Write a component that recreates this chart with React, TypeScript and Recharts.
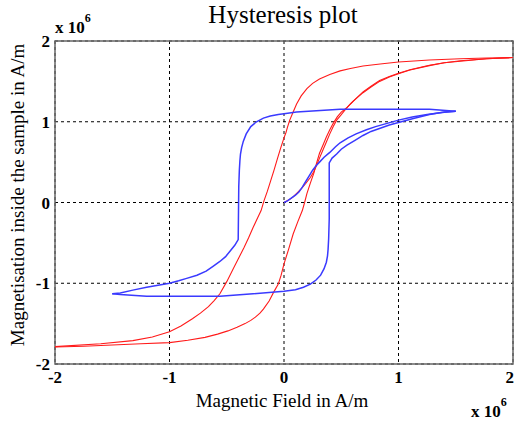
import React from 'react'
import {
  LineChart, Line, XAxis, YAxis, CartesianGrid, ReferenceArea
} from 'recharts'

// field H (x 10^6 A/m) and magnetisation M (x 10^6 A/m)
const ticks = [-2, -1, 0, 1, 2]

// red loop
const redInitH = [0, 0.04, 0.08, 0.115, 0.15, 0.19, 0.23, 0.26, 0.285, 0.31, 0.34, 0.37, 0.4, 0.43, 0.46, 0.495, 0.53, 0.58, 0.63, 0.69, 0.76, 0.835, 0.92, 1.0, 1.1, 1.27, 1.4, 1.54, 1.77, 2.0]
const redInitM = [0, 0.03, 0.07, 0.12, 0.17, 0.235, 0.31, 0.38, 0.46, 0.55, 0.65, 0.75, 0.85, 0.94, 1.02, 1.08, 1.14, 1.22, 1.29, 1.37, 1.44, 1.51, 1.56, 1.6, 1.645, 1.7, 1.73, 1.75, 1.78, 1.795]

const redDownH = [2.0, 1.77, 1.54, 1.27, 1.0, 0.84, 0.69, 0.58, 0.49, 0.4, 0.31, 0.25, 0.2, 0.15, 0.11, 0.08, 0.05, 0.03, 0.018, 0, -0.03, -0.058, -0.087, -0.116, -0.145, -0.175, -0.2, -0.23, -0.27, -0.31, -0.35, -0.4, -0.44, -0.5, -0.56, -0.61, -0.66, -0.73, -0.8, -0.9, -1.0, -1.15, -1.32, -1.6, -2.0]
const redDownM = [1.795, 1.79, 1.78, 1.765, 1.74, 1.715, 1.69, 1.66, 1.63, 1.585, 1.53, 1.475, 1.41, 1.32, 1.22, 1.12, 1.02, 0.93, 0.87, 0.8, 0.67, 0.54, 0.4, 0.27, 0.14, 0.02, -0.1, -0.19, -0.31, -0.44, -0.56, -0.7, -0.81, -0.98, -1.13, -1.215, -1.29, -1.37, -1.44, -1.53, -1.6, -1.665, -1.71, -1.75, -1.785]

const redUpH = [-2.0, -1.75, -1.5, -1.25, -1.0, -0.84, -0.69, -0.58, -0.49, -0.41, -0.34, -0.29, -0.25, -0.21, -0.18, -0.13, -0.09, -0.05, -0.025, 0, 0.04, 0.08, 0.12, 0.16, 0.18, 0.2, 0.23, 0.26, 0.285, 0.31, 0.34, 0.37, 0.4, 0.43, 0.465, 0.5, 0.545, 0.6, 0.69, 0.76, 0.835, 0.92, 1.0, 1.1, 1.27, 1.4, 1.54, 1.77, 2.0]
const redUpM = [-1.79, -1.78, -1.765, -1.75, -1.735, -1.705, -1.67, -1.63, -1.59, -1.545, -1.5, -1.46, -1.42, -1.37, -1.32, -1.22, -1.11, -1.01, -0.9, -0.76, -0.58, -0.39, -0.24, -0.1, 0, 0.11, 0.24, 0.36, 0.49, 0.61, 0.71, 0.81, 0.9, 0.98, 1.06, 1.12, 1.17, 1.25, 1.36, 1.43, 1.5, 1.555, 1.595, 1.64, 1.695, 1.73, 1.755, 1.78, 1.795]

// blue loop
const blueInitH = [0, 0.03, 0.06, 0.1, 0.13, 0.16, 0.19, 0.22, 0.25, 0.28, 0.31, 0.35, 0.4, 0.45, 0.49, 0.56, 0.63, 0.72, 0.8, 0.9, 1.0, 1.12, 1.25, 1.38, 1.5]
const blueInitM = [0, 0.02, 0.05, 0.09, 0.13, 0.19, 0.26, 0.33, 0.4, 0.455, 0.5, 0.56, 0.62, 0.69, 0.74, 0.8, 0.85, 0.9, 0.94, 0.98, 1.02, 1.06, 1.09, 1.115, 1.13]

const blueDownH = [1.5, 1.27, 0.49, 0.11, 0, -0.05, -0.12, -0.18, -0.24, -0.29, -0.33, -0.355, -0.37, -0.38, -0.385, -0.39, -0.395, -0.4, -0.43, -0.47, -0.51, -0.56, -0.62, -0.68, -0.76, -0.85, -0.92, -1.0, -1.1, -1.2, -1.32, -1.43, -1.5]
const blueDownM = [1.13, 1.155, 1.155, 1.12, 1.1, 1.09, 1.07, 1.045, 1.0, 0.94, 0.85, 0.76, 0.68, 0.6, 0.52, 0.4, 0.2, -0.46, -0.53, -0.6, -0.67, -0.73, -0.79, -0.85, -0.9, -0.94, -0.97, -1.0, -1.025, -1.05, -1.085, -1.12, -1.13]

const blueUpH = [-1.5, -1.43, -1.2, -0.56, -0.27, 0, 0.1, 0.17, 0.23, 0.28, 0.32, 0.35, 0.37, 0.38, 0.385, 0.39, 0.395, 0.395, 0.42, 0.46, 0.5, 0.55, 0.62, 0.69, 0.76, 0.84, 0.92, 1.0, 1.13, 1.27, 1.4, 1.5]
const blueUpM = [-1.13, -1.14, -1.16, -1.16, -1.13, -1.1, -1.08, -1.05, -1.01, -0.96, -0.9, -0.82, -0.74, -0.66, -0.58, -0.45, -0.2, 0.49, 0.55, 0.6, 0.66, 0.71, 0.77, 0.83, 0.88, 0.92, 0.96, 0.99, 1.04, 1.09, 1.12, 1.13]

const zip = (h: number[], m: number[]) => h.map((x, i) => ({ x, y: m[i] }))

const branches = [
  { key: 'redInit', data: zip(redInitH, redInitM), color: '#ff1a1a', width: 1.1 },
  { key: 'redDown', data: zip(redDownH, redDownM), color: '#ff1a1a', width: 1.1 },
  { key: 'redUp', data: zip(redUpH, redUpM), color: '#ff1a1a', width: 1.1 },
  { key: 'blueInit', data: zip(blueInitH, blueInitM), color: '#3a3aff', width: 1.5 },
  { key: 'blueDown', data: zip(blueDownH, blueDownM), color: '#3a3aff', width: 1.5 },
  { key: 'blueUp', data: zip(blueUpH, blueUpM), color: '#3a3aff', width: 1.5 },
]

const serif = '"Liberation Serif", "Times New Roman", serif'
const tickStyle = { fill: '#000', fontSize: 17, fontWeight: 700, fontFamily: serif }

export default function App() {
  return (
    <div style={{ position: 'absolute', left: 0, top: 0, width: 514, height: 422, background: '#fff' }}>
      <LineChart width={514} height={422} margin={{ top: 41, right: 1, left: 0, bottom: 0 }}>
        <CartesianGrid strokeDasharray="3 3" stroke="#000" strokeWidth={1} />
        <XAxis type="number" dataKey="x" domain={[-2, 2]} ticks={ticks} height={58}
          axisLine={false} tickLine={false} tickSize={5} tickMargin={2} tick={tickStyle} allowDataOverflow />
        <YAxis type="number" dataKey="y" domain={[-2, 2]} ticks={ticks} width={55}
          axisLine={false} tickLine={false} tickSize={5} tickMargin={0} tick={tickStyle} allowDataOverflow />
        {branches.map(b => (
          <Line key={b.key} data={b.data} dataKey="y" type="linear" stroke={b.color}
            strokeWidth={b.width} dot={false} activeDot={false} isAnimationActive={false} />
        ))}
        <ReferenceArea x1={-2} x2={2} y1={-2} y2={2} fill="none" stroke="#666" strokeWidth={1.5} />
      </LineChart>
      <svg width={514} height={422} style={{ position: 'absolute', left: 0, top: 0, pointerEvents: 'none' }}>
        <text x={283} y={23} textAnchor="middle" fontFamily={serif} fontSize={25} fill="#000">Hysteresis plot</text>
        <text x={282} y={407} textAnchor="middle" fontFamily={serif} fontSize={19} fill="#000">Magnetic Field in A/m</text>
        <text transform="translate(24,195) rotate(-90)" textAnchor="middle" fontFamily={serif} fontSize={19} fill="#000">
          Magnetisation inside the sample in A/m
        </text>
        <text x={55} y={33} fontFamily={serif} fontSize={17} fontWeight={700} fill="#000">
          x 10<tspan fontSize={12} dy={-11}>6</tspan>
        </text>
        <text x={471} y={417} fontFamily={serif} fontSize={17} fontWeight={700} fill="#000">
          x 10<tspan fontSize={12} dy={-11}>6</tspan>
        </text>
      </svg>
    </div>
  )
}
